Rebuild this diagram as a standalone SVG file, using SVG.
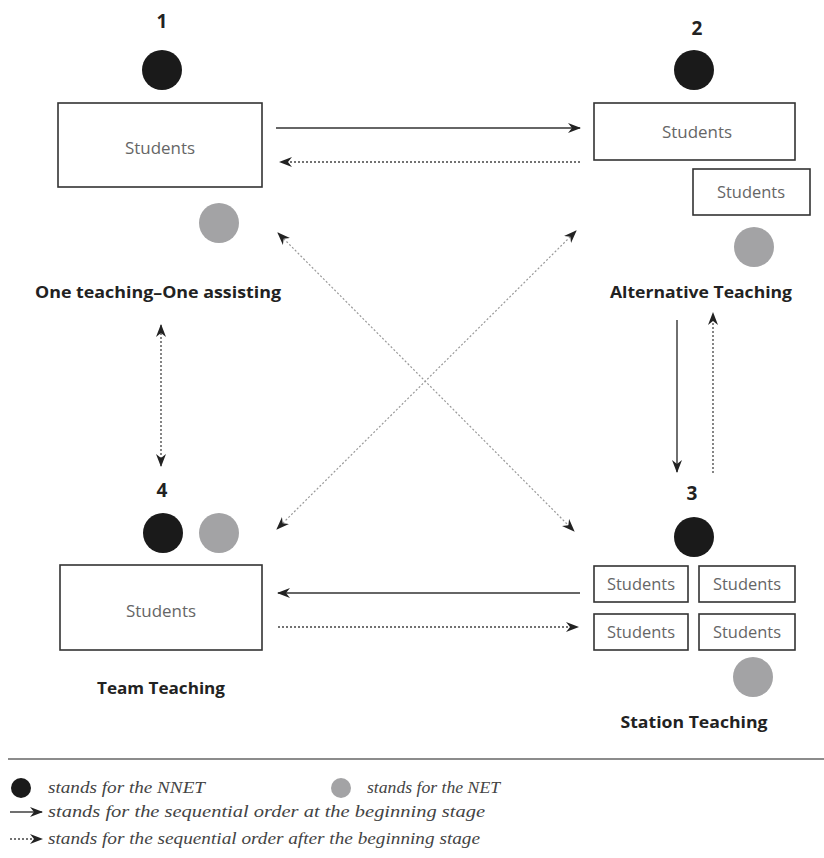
<svg xmlns="http://www.w3.org/2000/svg" width="824" height="858" viewBox="0 0 824 858">
<defs>
<marker id="ah" markerWidth="14" markerHeight="10" refX="12" refY="5" orient="auto-start-reverse" markerUnits="userSpaceOnUse">
<path d="M0,0 L13,5 L0,10 L4,5 Z" fill="#222"/>
</marker>
<style>
.box{fill:#fff;stroke:#333;stroke-width:1.6}
.stu{font-family:"Open Sans","Noto Sans",sans-serif;font-size:16px;fill:#666;text-anchor:middle}
.num{font-family:"Open Sans","Noto Sans",sans-serif;font-size:19px;font-weight:bold;fill:#222;text-anchor:middle}
.ttl{font-family:"Open Sans","Noto Sans",sans-serif;font-size:16.5px;font-weight:bold;fill:#222;text-anchor:middle}
.nnet{fill:#1a1a1a}
.net{fill:#a3a3a5}
.solid{stroke:#333;stroke-width:1.4;fill:none}
.dot{stroke:#444;stroke-width:1.3;stroke-dasharray:2 2;fill:none}
.diag{stroke:#999;stroke-width:1.2;stroke-dasharray:2 2;fill:none}
.leg{font-family:"Liberation Serif",serif;font-style:italic;font-size:16px;fill:#444}
</style>
</defs>
<rect width="824" height="858" fill="#fff"/>
<g id="node1">
<text class="num" x="162" y="28">1</text>
<circle class="nnet" cx="162" cy="70" r="20"/>
<rect class="box" x="58" y="103" width="204" height="84"/>
<text class="stu" x="160" y="154" textLength="70" lengthAdjust="spacingAndGlyphs">Students</text>
<circle class="net" cx="219" cy="223" r="20"/>
<text class="ttl" x="158" y="298" textLength="246" lengthAdjust="spacingAndGlyphs">One teaching–One assisting</text>
</g>
<g id="node2">
<text class="num" x="697" y="35">2</text>
<circle class="nnet" cx="694" cy="70" r="20"/>
<rect class="box" x="594" y="103" width="201" height="57"/>
<text class="stu" x="697" y="138" textLength="70" lengthAdjust="spacingAndGlyphs">Students</text>
<rect class="box" x="693" y="169" width="117" height="46"/>
<text class="stu" x="751" y="198" textLength="68" lengthAdjust="spacingAndGlyphs">Students</text>
<circle class="net" cx="754" cy="247" r="20"/>
<text class="ttl" x="701" y="298" textLength="182" lengthAdjust="spacingAndGlyphs">Alternative Teaching</text>
</g>
<g id="node3">
<text class="num" x="692" y="500">3</text>
<circle class="nnet" cx="694" cy="537" r="20"/>
<rect class="box" x="594" y="566" width="94" height="36"/>
<text class="stu" x="641" y="590" textLength="68" lengthAdjust="spacingAndGlyphs">Students</text>
<rect class="box" x="699" y="566" width="96" height="36"/>
<text class="stu" x="747" y="590" textLength="68" lengthAdjust="spacingAndGlyphs">Students</text>
<rect class="box" x="594" y="614" width="94" height="36"/>
<text class="stu" x="641" y="638" textLength="68" lengthAdjust="spacingAndGlyphs">Students</text>
<rect class="box" x="699" y="614" width="96" height="36"/>
<text class="stu" x="747" y="638" textLength="68" lengthAdjust="spacingAndGlyphs">Students</text>
<circle class="net" cx="753" cy="677" r="20"/>
<text class="ttl" x="694" y="728" textLength="147" lengthAdjust="spacingAndGlyphs">Station Teaching</text>
</g>
<g id="node4">
<text class="num" x="162" y="497">4</text>
<circle class="nnet" cx="163" cy="533" r="20"/>
<circle class="net" cx="219" cy="533" r="20"/>
<rect class="box" x="60" y="565" width="202" height="85"/>
<text class="stu" x="161" y="617" textLength="70" lengthAdjust="spacingAndGlyphs">Students</text>
<text class="ttl" x="161" y="694" textLength="128" lengthAdjust="spacingAndGlyphs">Team Teaching</text>
</g>
<g id="connectors">
<line class="solid" x1="276" y1="128" x2="580" y2="128" marker-end="url(#ah)"/>
<line class="dot" x1="580" y1="162" x2="280" y2="162" marker-end="url(#ah)"/>
<line class="diag" x1="278" y1="233" x2="574" y2="531" marker-start="url(#ah)" marker-end="url(#ah)"/>
<line class="diag" x1="576" y1="231" x2="277" y2="529" marker-start="url(#ah)" marker-end="url(#ah)"/>
<line class="solid" x1="580" y1="593" x2="278" y2="593" marker-end="url(#ah)"/>
<line class="dot" x1="278" y1="627" x2="578" y2="627" marker-end="url(#ah)"/>
<line class="dot" x1="161" y1="325" x2="161" y2="466" marker-start="url(#ah)" marker-end="url(#ah)"/>
<line class="solid" x1="677" y1="320" x2="677" y2="472" marker-end="url(#ah)"/>
<line class="dot" x1="713" y1="473" x2="713" y2="313" marker-end="url(#ah)"/>
</g>
<g id="legend">
<line x1="8" y1="759" x2="824" y2="759" stroke="#666" stroke-width="1.4"/>
<circle class="nnet" cx="21" cy="788" r="10"/>
<text class="leg" x="48" y="793" textLength="157" lengthAdjust="spacingAndGlyphs">stands for the NNET</text>
<circle class="net" cx="341" cy="788" r="10"/>
<text class="leg" x="367" y="793" textLength="133" lengthAdjust="spacingAndGlyphs">stands for the NET</text>
<line class="solid" x1="10" y1="812" x2="42" y2="812" marker-end="url(#ah)"/>
<text class="leg" x="48" y="817" textLength="437" lengthAdjust="spacingAndGlyphs">stands for the sequential order at the beginning stage</text>
<line class="dot" x1="10" y1="839" x2="42" y2="839" marker-end="url(#ah)"/>
<text class="leg" x="48" y="844" textLength="432" lengthAdjust="spacingAndGlyphs">stands for the sequential order after the beginning stage</text>
</g>
</svg>
